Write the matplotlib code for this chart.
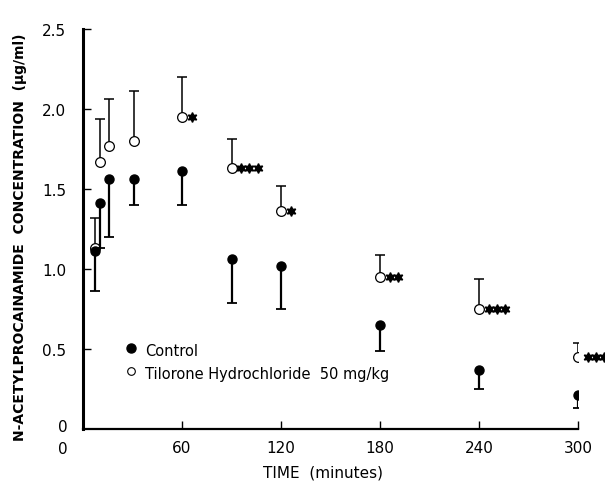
import numpy as np
import matplotlib.pyplot as plt

# Control (filled circles), mean and lower end of error bar
t_ctrl = [7, 10, 16, 31, 60, 90, 120, 180, 240, 300]
ctrl = [1.11, 1.41, 1.56, 1.56, 1.61, 1.06, 1.02, 0.65, 0.37, 0.21]
ctrl_low = [0.86, 1.13, 1.20, 1.40, 1.40, 0.79, 0.75, 0.49, 0.25, 0.13]

# Tilorone (open circles), mean and upper end of error bar
t_til = [7, 10.5, 16, 31, 60, 90, 120, 180, 240, 300]
til = [1.13, 1.67, 1.77, 1.80, 1.95, 1.63, 1.36, 0.95, 0.75, 0.45]
til_up = [1.32, 1.94, 2.06, 2.11, 2.20, 1.81, 1.52, 1.09, 0.94, 0.535]
n_stars = [0, 0, 0, 0, 1, 3, 1, 2, 3, 3]

xticks = [60, 120, 180, 240, 300]
yticks = [0.5, 1.0, 1.5, 2.0, 2.5]
yticklabels = ["0.5", "1.0", "1.5", "2.0", "2.5"]

fig = plt.figure(figsize=(6.05, 4.89), dpi=100)
ax = fig.add_axes([83/605, 1-430/489, 495/605, 400/489])

# open circles with upward bars
ax.vlines(t_til, til, til_up, color='black', lw=1.1)
ax.plot(t_til, til_up, '_', color='black', ms=7, mew=1.1)
ax.plot(t_til, til, 'o', mfc='white', mec='black', ms=7, mew=0.9)

# filled circles with downward bars
ax.vlines(t_ctrl, ctrl_low, ctrl, color='black', lw=1.6)
ax.plot(t_ctrl, ctrl_low, '_', color='black', ms=7, mew=1.3)
ax.plot(t_ctrl, ctrl, 'o', color='black', ms=6.5)

# significance stars
for t, v, n in zip(t_til, til, n_stars):
    for k in range(n):
        ax.plot(t + 5.8 + k * 5.0, v, marker=(6, 1, 0), color='black', ms=7,
                clip_on=False)

# legend
ax.plot([29], [0.505], 'o', color='black', ms=6.5)
ax.plot([29], [0.36], 'o', mfc='white', mec='black', ms=5.5, mew=0.8)
ax.text(37.5, 0.49, "Control", fontsize=10.5, va='center')
ax.text(37.5, 0.345, "Tilorone Hydrochloride  50 mg/kg", fontsize=10.5, va='center')

ax.set_xlim(0, 300)
ax.set_ylim(0, 2.5)
ax.set_xticks(xticks)
ax.set_yticks(yticks)
ax.set_yticklabels(yticklabels)
ax.tick_params(direction='in', length=6, width=1, labelsize=11)
ax.tick_params(axis='x', pad=8)
ax.tick_params(axis='y', pad=12)
for s in ['top', 'right']:
    ax.spines[s].set_visible(False)
ax.spines['left'].set_linewidth(2.2)
ax.spines['bottom'].set_linewidth(1.6)

fig.text(63/605, 1-428/489, "0", fontsize=11, ha='center', va='center')
fig.text(63/605, 1-450/489, "0", fontsize=11, ha='center', va='center')
fig.text(323/605, 1-473/489, "TIME  (minutes)", fontsize=11, ha='center', va='center')
fig.text(20/605, 1-237/489, "N-ACETYLPROCAINAMIDE  CONCENTRATION  (\u00b5g/ml)",
         fontsize=10, rotation=90, ha='center', va='center', fontweight='bold')

fig.savefig("out.png", dpi=100)
